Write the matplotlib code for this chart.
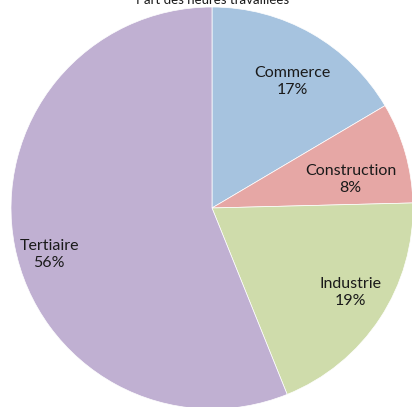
import matplotlib
matplotlib.use("Agg")
import matplotlib.pyplot as plt

plt.rcParams['font.family'] = ['Lato', 'DejaVu Sans']

labels = ["Commerce", "Construction", "Industrie", "Tertiaire"]
shares = [16.5, 8.1, 19.3, 56.1]
pct_text = ["17%", "8%", "19%", "56%"]
colors = ["#A6C3DF", "#E6A7A5", "#CFDCAB", "#C0B0D2"]
# where Excel put the data labels (pie radius units)
label_pos = [(0.40, 0.63), (0.69, 0.14), (0.69, -0.42), (-0.81, -0.23)]

fig = plt.figure(figsize=(4.12, 4.07), dpi=100)
ax = fig.add_axes([0.0267, -0.0049, 0.9757, 0.9877])

ax.pie(shares, colors=colors, startangle=90, counterclock=False,
       radius=1.0, wedgeprops=dict(edgecolor="white", linewidth=0.5))

for name, pct, (x, y) in zip(labels, pct_text, label_pos):
    ax.text(x, y, f"{name}\n{pct}", ha="center", va="center",
            fontsize=11.5, color="#1a1a1a", linespacing=1.25)

ax.set_xlim(-1, 1)
ax.set_ylim(-1, 1)
ax.set_aspect("auto")
ax.axis("off")

fig.text(0.515, 1.0, "Part des heures travaillées", ha="center", va="center",
         fontsize=9.5, color="#1a1a1a")

fig.savefig("out.png", dpi=100)
